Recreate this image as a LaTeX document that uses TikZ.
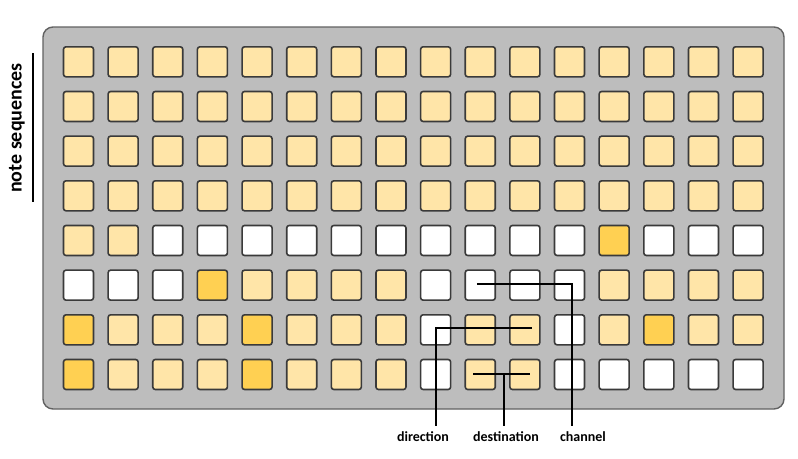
\documentclass[tikz,border=0pt]{standalone}
\usepackage{fontspec}
\setmainfont{Carlito}
\usetikzlibrary{calc}
\definecolor{colL}{HTML}{FFE5A8}
\definecolor{colD}{HTML}{FFD052}
\definecolor{colW}{HTML}{FFFFFF}
\definecolor{panelgray}{HTML}{BDBDBD}
\definecolor{edgegray}{HTML}{3A3A3A}
\begin{document}
\begin{tikzpicture}[x=1pt,y=-1pt,
  sq/.style={draw=edgegray, line width=1.6pt, rounded corners=2.5pt, minimum size=30pt, inner sep=0pt},
  lead/.style={line width=2pt, black, shorten >=5pt},
  lbl/.style={font=\bfseries\fontsize{14}{16}\selectfont, inner sep=0pt}]
\useasboundingbox (0,0) rectangle (798,458);
\draw[fill=panelgray, draw=edgegray!80, line width=1.4pt, rounded corners=10pt] (43,27) rectangle (784,409);
\foreach \row [count=\r from 0] in {
  {L,L,L,L,L,L,L,L,L,L,L,L,L,L,L,L},
  {L,L,L,L,L,L,L,L,L,L,L,L,L,L,L,L},
  {L,L,L,L,L,L,L,L,L,L,L,L,L,L,L,L},
  {L,L,L,L,L,L,L,L,L,L,L,L,L,L,L,L},
  {L,L,W,W,W,W,W,W,W,W,W,W,D,W,W,W},
  {W,W,W,D,L,L,L,L,W,W,W,W,L,L,L,L},
  {D,L,L,L,D,L,L,L,W,L,L,W,L,D,L,L},
  {D,L,L,L,D,L,L,L,W,L,L,W,W,W,W,W}} {
  \foreach \t [count=\c from 0] in \row {
    \node[sq, fill=col\t] (s-\r-\c) at ({78.5+\c*44.64},{61.8+\r*44.67}) {};
  }
}
% note sequences
\node[lbl, font=\bfseries\fontsize{20}{22}\selectfont, rotate=90] (ns) at (17,128) {note sequences};
\coordinate (nsa) at (33,53);
\coordinate (nsb) at (33,202);
\draw[line width=1.5pt] (nsa) -- (nsb);
% labels
\node[lbl, anchor=north] (dir) at (423,431) {direction};
\node[lbl, anchor=north] (dest) at (506,431) {destination};
\node[lbl, anchor=north] (chan) at (583,431) {channel};
% connector anchor points
\coordinate (chS) at ([xshift=-3.5pt,yshift=1.5pt]s-5-9.center);
\coordinate (chC) at ([xshift=2pt,yshift=1.5pt]s-5-11.center);
\coordinate (drS) at ([xshift=7pt,yshift=2pt]s-6-10.center);
\coordinate (drC) at ([xshift=0.5pt,yshift=2pt]s-6-8.center);
\coordinate (dsA) at ([xshift=-7pt]s-7-9.center);
\coordinate (dsB) at ([xshift=5pt]s-7-10.center);
\coordinate (dsM) at ($(dsA)!0.55!(dsB)$);
% connectors
\draw[lead] (chS) -- (chC) -- (chC |- chan.north);
\draw[lead] (drS) -- (drC) -- (drC |- dir.north);
\draw[lead, shorten >=0pt] (dsA) -- (dsB);
\draw[lead] (dsM) -- (dsM |- dest.north);
\end{tikzpicture}
\end{document}
